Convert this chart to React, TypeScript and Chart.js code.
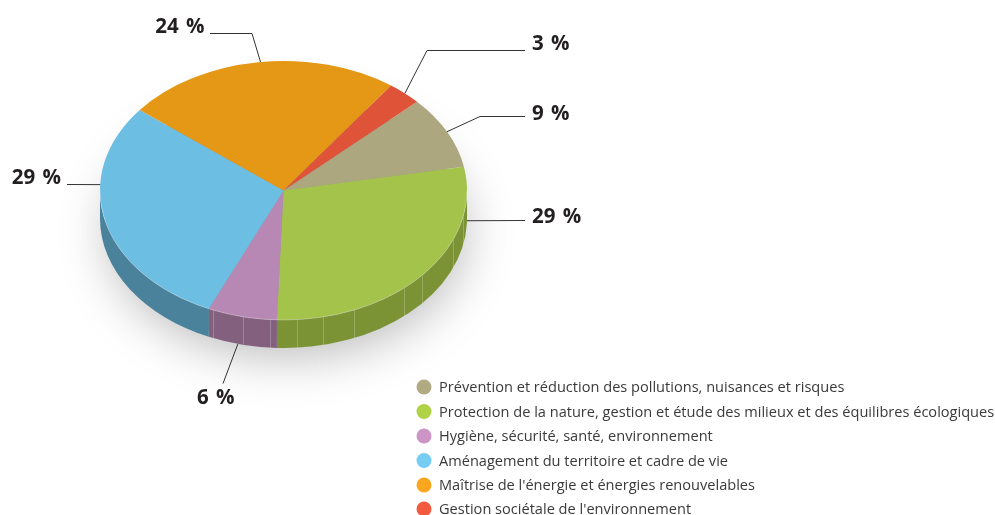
import React, { useEffect, useRef } from "react";
import { Chart, registerables } from "chart.js";

Chart.register(...registerables);

// Data, in drawing order (clockwise from the tan slice)
const categories = [
  "Prévention et réduction des pollutions, nuisances et risques",
  "Protection de la nature, gestion et étude des milieux et des équilibres écologiques",
  "Hygiène, sécurité, santé, environnement",
  "Aménagement du territoire et cadre de vie",
  "Maîtrise de l'énergie et énergies renouvelables",
  "Gestion sociétale de l'environnement",
];
const shares = [9.1, 28.5, 6.1, 29, 24.3, 3];
const percentLabels = ["9 %", "29 %", "6 %", "29 %", "24 %", "3 %"];
const topColors = ["#ada780", "#a3c34a", "#b788b4", "#6cbee3", "#e49816", "#df5438"];
const wallColors = ["#7d7a5c", "#7b9235", "#84607f", "#4a829c", "#a86f10", "#a03c28"];
const legendColors = ["#b2ab82", "#b0d246", "#cc95c6", "#76cdf2", "#fba61f", "#f45a3d"];

// Layout constants
const W = 995;
const H = 515;
const CX = 283.5;
const CY = 190.5;
const RY = 129.5;
const RX = 183.5;
const DEPTH = 28;
const ROTATION = 46.7;
const FONT = '"Open Sans", sans-serif';
const INK = "#231f20";

// Wall seams, given as x pixels along the front of the pie
const seams = [213, 243, 270, 297, 323, 354, 404, 422, 453, 463];

// Call-outs: where they leave the pie (degrees clockwise from top), whether on
// the lower rim, the rest of the leader, and where the label goes.
const callouts = [
  { deg: 63, lower: false, path: [[480, 116], [525, 116]], tx: 532, ty: 114, align: "left" },
  { deg: 91, lower: true, path: [[525, 220]], tx: 532, ty: 217, align: "left" },
  { deg: 194.4, lower: true, path: [[223, 383]], tx: 197, ty: 398, align: "left" },
  { deg: 272.6, lower: false, path: [[67, 184]], tx: 61, ty: 178, align: "right" },
  { deg: 352.8, lower: false, path: [[252, 33], [210, 33]], tx: 204.5, ty: 27, align: "right" },
  { deg: 41.4, lower: false, path: [[427, 50], [525, 50]], tx: 532, ty: 44, align: "left" },
];

const legendX = 424;
const legendTextX = 439;
const legendRows = [388, 412.5, 437, 461.5, 486, 510];

function wallIntervals(a0: number, a1: number): [number, number][] {
  const out: [number, number][] = [];
  for (const k of [-2, 0, 2]) {
    const s = Math.max(a0, k * Math.PI);
    const e = Math.min(a1, (k + 1) * Math.PI);
    if (e > s) out.push([s, e]);
  }
  return out;
}

const pie3d = {
  id: "pie3d",
  beforeDatasetsDraw(chart: any) {
    const ctx = chart.ctx;
    const arcs = chart.getDatasetMeta(0).data;
    const x = arcs[0].x;
    const y = arcs[0].y;
    const ry = arcs[0].outerRadius;
    const rx = ry * (RX / RY);

    // soft shadow
    ctx.save();
    ctx.shadowColor = "rgba(0,0,0,0.28)";
    ctx.shadowBlur = 50;
    ctx.shadowOffsetX = 3;
    ctx.shadowOffsetY = 14;
    ctx.fillStyle = "#999";
    ctx.beginPath();
    ctx.ellipse(x, y + DEPTH, rx - 6, ry - 6, 0, 0, Math.PI * 2);
    ctx.fill();
    ctx.restore();

    // side walls
    arcs.forEach((arc: any, i: number) => {
      for (const [s, e] of wallIntervals(arc.startAngle, arc.endAngle)) {
        ctx.fillStyle = wallColors[i];
        ctx.beginPath();
        ctx.ellipse(x, y, rx, ry, 0, s, e);
        ctx.ellipse(x, y + DEPTH, rx, ry, 0, e, s, true);
        ctx.closePath();
        ctx.fill();
      }
    });

    // seams on the walls
    ctx.save();
    ctx.strokeStyle = "rgba(255,255,255,0.22)";
    ctx.lineWidth = 1;
    for (const sx of seams) {
      const c = (sx - x) / rx;
      const sy = y + ry * Math.sqrt(Math.max(0, 1 - c * c));
      ctx.beginPath();
      ctx.moveTo(sx + 0.5, sy);
      ctx.lineTo(sx + 0.5, sy + DEPTH);
      ctx.stroke();
    }
    ctx.restore();

    // the top face is a circle for the library, squeezed here into the ellipse
    ctx.save();
    ctx.translate(x, 0);
    ctx.scale(RX / RY, 1);
    ctx.translate(-x, 0);
  },
  afterDatasetsDraw(chart: any) {
    const ctx = chart.ctx;
    ctx.restore();
    const arc0 = chart.getDatasetMeta(0).data[0];
    const ry = arc0.outerRadius;
    const rx = ry * (RX / RY);
    // pale highlight on the front rim of the top face
    ctx.save();
    ctx.strokeStyle = "rgba(255,255,255,0.3)";
    ctx.lineWidth = 1;
    ctx.beginPath();
    ctx.ellipse(arc0.x, arc0.y, rx, ry, 0, 0, Math.PI);
    ctx.stroke();
    ctx.restore();
  },
  afterDraw(chart: any) {
    const ctx = chart.ctx;
    const arc0 = chart.getDatasetMeta(0).data[0];
    const x = arc0.x;
    const y = arc0.y;
    const ry = arc0.outerRadius;
    const rx = ry * (RX / RY);

    // leaders and percentage labels
    ctx.save();
    ctx.strokeStyle = "#333";
    ctx.lineWidth = 1;
    ctx.fillStyle = INK;
    ctx.textBaseline = "middle";
    ctx.font = `bold 20.5px ${FONT}`;
    (ctx as any).wordSpacing = "2px";
    percentLabels.forEach((text, i) => {
      const c = callouts[i];
      const a = (c.deg * Math.PI) / 180;
      const px = x + rx * Math.sin(a);
      const py = y - ry * Math.cos(a) + (c.lower ? DEPTH : 0);
      ctx.beginPath();
      ctx.moveTo(px, py);
      for (const [lx, ly] of c.path) ctx.lineTo(lx, ly + 0.5);
      ctx.stroke();
      ctx.textAlign = c.align;
      ctx.fillText(text, c.tx, c.ty);
    });
    (ctx as any).wordSpacing = "0px";

    // legend
    ctx.textAlign = "left";
    ctx.font = `14.58px ${FONT}`;
    categories.forEach((name, i) => {
      const ly = legendRows[i];
      ctx.fillStyle = legendColors[i];
      ctx.beginPath();
      ctx.arc(legendX, ly - 1, 7.5, 0, Math.PI * 2);
      ctx.fill();
      ctx.fillStyle = "#3a3a3a";
      ctx.fillText(name, legendTextX, ly);
    });
    ctx.restore();
  },
};

export default function App() {
  const ref = useRef<HTMLCanvasElement | null>(null);
  useEffect(() => {
    const chart = new Chart(ref.current as HTMLCanvasElement, {
      type: "pie",
      data: {
        labels: categories,
        datasets: [
          {
            data: shares,
            backgroundColor: topColors,
            borderWidth: 0,
            clip: false,
          } as any,
        ],
      },
      options: {
        responsive: false,
        animation: false,
        events: [],
        rotation: ROTATION,
        layout: {
          padding: {
            left: CX - RY,
            right: W - CX - RY,
            top: CY - RY,
            bottom: H - CY - RY,
          },
        },
        plugins: {
          legend: { display: false },
          tooltip: { enabled: false },
          title: { display: false },
        },
      },
      plugins: [pie3d],
    } as any);
    return () => chart.destroy();
  }, []);
  return (
    <canvas
      ref={ref}
      width={W}
      height={H}
      style={{ position: "fixed", left: 0, top: 0, width: W, height: H, display: "block" }}
    />
  );
}
